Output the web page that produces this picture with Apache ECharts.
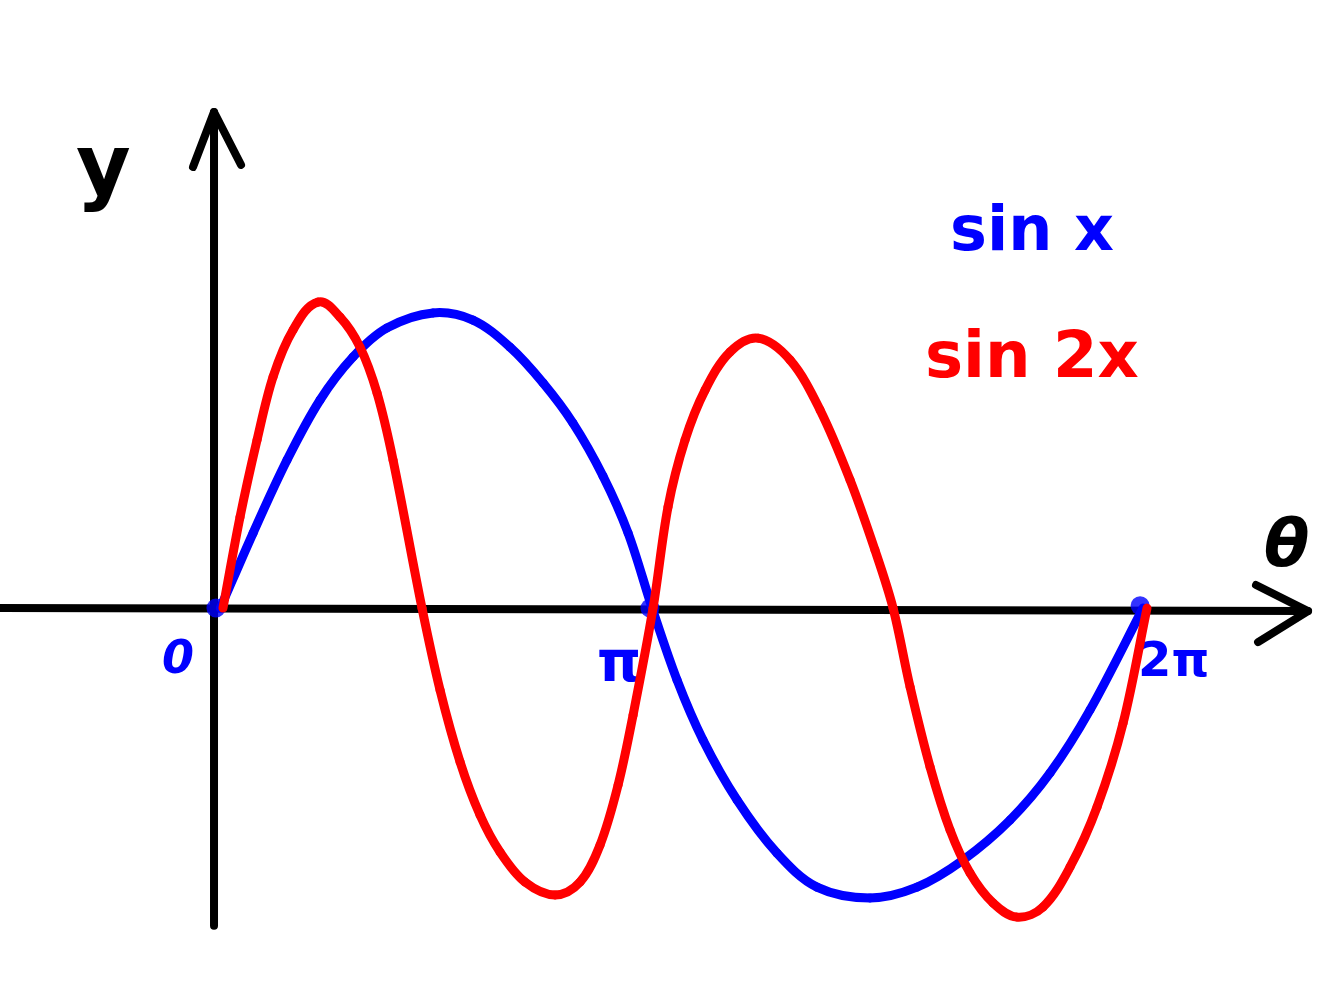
<!DOCTYPE html>
<html>
<head>
<meta charset="utf-8">
<script src="https://cdn.jsdelivr.net/npm/echarts@6/dist/echarts.min.js"></script>
<style>
html,body{margin:0;padding:0;background:#fff;}
#c{width:1344px;height:1000px;}
</style>
</head>
<body>
<div id="c"></div>
<script>
// sin x (blue): theta (rad), value
const sinTheta  = [0, 0.223, 0.454, 0.679, 0.903, 1.135, 1.448, 1.720, 1.972, 2.197, 2.401, 2.605, 2.776, 2.940, 3.109, 3.286, 3.518, 3.790, 4.062, 4.423, 4.743, 5.056, 5.376, 5.649, 5.921, 6.282];
const sinValues = [0, 0.250, 0.493, 0.693, 0.836, 0.933, 0.983, 0.959, 0.869, 0.750, 0.616, 0.440, 0.250, 0, -0.239, -0.439, -0.639, -0.816, -0.929, -0.965, -0.929, -0.839, -0.706, -0.549, -0.339, 0];

// sin 2x (red)
const sin2Theta  = [0.018, 0.134, 0.250, 0.359, 0.495, 0.665, 0.815, 0.951, 1.067, 1.176, 1.373, 1.496, 1.632, 1.768, 1.904, 2.074, 2.279, 2.449, 2.585, 2.708, 2.810, 2.946, 3.048, 3.164, 3.300, 3.470, 3.661, 3.879, 4.083, 4.287, 4.457, 4.580, 4.696, 4.832, 4.968, 5.104, 5.261, 5.424, 5.601, 5.785, 5.969, 6.146, 6.309];
const sin2Values = [0, 0.303, 0.560, 0.770, 0.926, 1.019, 0.969, 0.869, 0.716, 0.493, 0, -0.273, -0.512, -0.689, -0.812, -0.912, -0.955, -0.912, -0.789, -0.589, -0.356, 0, 0.337, 0.560, 0.726, 0.853, 0.899, 0.826, 0.660, 0.427, 0.193, 0, -0.263, -0.529, -0.739, -0.882, -0.982, -1.029, -0.995, -0.862, -0.662, -0.383, 0];

// hand-drawn axes (data coordinates)
const xAxisLine   = [[-1.5, 0], [7.405, -0.01]];
const xAxisArrow  = [[7.051, 0.077], [7.405, -0.01], [7.065, -0.113]];
const yAxisLine   = [[-0.043, 1.652], [-0.043, -1.058]];
const yAxisArrow  = [[-0.186, 1.469], [-0.043, 1.652], [0.141, 1.476]];

// marked points on the theta axis
const markTheta = [-0.030, 2.925, 6.262];
const markValue = [0, 0, 0.008];

// tick labels
const tickLabels = ['0', 'π', '2π'];

const zip = (a, b) => a.map((v, i) => [v, b[i]]);

// smooth curve through the read points, positioned by the cartesian scales
function curveSeries(name, xs, ys, color, z) {
  return {
    type: 'custom', name: name, z: z, silent: true,
    data: [[xs[0], ys[0]]],
    renderItem: function (params, api) {
      const pts = xs.map((x, i) => api.coord([x, ys[i]]));
      const n = pts.length;
      const dist = (a, b) => Math.hypot(b[0] - a[0], b[1] - a[1]);
      const tangent = i => {
        const p0 = pts[Math.max(i - 1, 0)], p1 = pts[Math.min(i + 1, n - 1)];
        const d = dist(p0, p1) || 1;
        return [(p1[0] - p0[0]) / d, (p1[1] - p0[1]) / d];
      };
      const children = [];
      for (let i = 0; i < n - 1; i++) {
        const a = pts[i], b = pts[i + 1], L = dist(a, b) / 3;
        const ta = tangent(i), tb = tangent(i + 1);
        children.push({
          type: 'bezierCurve',
          shape: {x1: a[0], y1: a[1], x2: b[0], y2: b[1],
                  cpx1: a[0] + ta[0] * L, cpy1: a[1] + ta[1] * L,
                  cpx2: b[0] - tb[0] * L, cpy2: b[1] - tb[1] * L},
          style: {stroke: color, lineWidth: 9, fill: 'none', lineCap: 'round', lineJoin: 'round'}
        });
      }
      return {type: 'group', children: children};
    }
  };
}

const chart = echarts.init(document.getElementById('c'), null, {renderer: 'canvas'});
const hand = '"DejaVu Sans", sans-serif';
const blackLine = {color: '#000', width: 8, cap: 'round', join: 'round'};

chart.setOption({
  animation: false,
  backgroundColor: '#fff',
  grid: {left: 0, right: 0, top: 0, bottom: 0},
  xAxis: {type: 'value', min: -1.5, max: 7.65, show: false},
  yAxis: {type: 'value', min: -1.305, max: 2.025, show: false},
  series: [
    {type: 'line', data: xAxisLine, showSymbol: false, lineStyle: blackLine, silent: true, z: 1},
    {type: 'line', data: xAxisArrow, showSymbol: false, lineStyle: blackLine, silent: true, z: 1},
    {type: 'line', data: yAxisLine, showSymbol: false, lineStyle: blackLine, silent: true, z: 1},
    {type: 'line', data: yAxisArrow, showSymbol: false, lineStyle: blackLine, silent: true, z: 1},
    {type: 'scatter', data: zip(markTheta, markValue), symbolSize: 19, itemStyle: {color: '#0000ff'}, z: 2},
    curveSeries('sin x', sinTheta, sinValues, '#0000ff', 3),
    curveSeries('sin 2x', sin2Theta, sin2Values, '#ff0000', 4)
  ],
  graphic: [
    {type: 'text', left: 76, top: 130, style: {text: 'y', font: 'bold 84px ' + hand, fill: '#000'}},
    {type: 'text', left: 1264, top: 516, style: {text: 'θ', font: 'bold italic 66px ' + hand, fill: '#000'}},
    {type: 'text', left: 162, top: 638, style: {text: tickLabels[0], font: 'bold italic 46px ' + hand, fill: '#0000ff'}},
    {type: 'text', left: 597, top: 638, style: {text: tickLabels[1], font: 'bold 56px ' + hand, fill: '#0000ff'}},
    {type: 'text', left: 1138, top: 640, style: {text: tickLabels[2], font: 'bold 48px ' + hand, fill: '#0000ff'}},
    {type: 'text', left: 950, top: 203, style: {text: 'sin x', font: 'bold 62px ' + hand, fill: '#0000ff'}},
    {type: 'text', left: 925, top: 328, style: {text: 'sin 2x', font: 'bold 64px ' + hand, fill: '#ff0000'}}
  ]
});
</script>
</body>
</html>
